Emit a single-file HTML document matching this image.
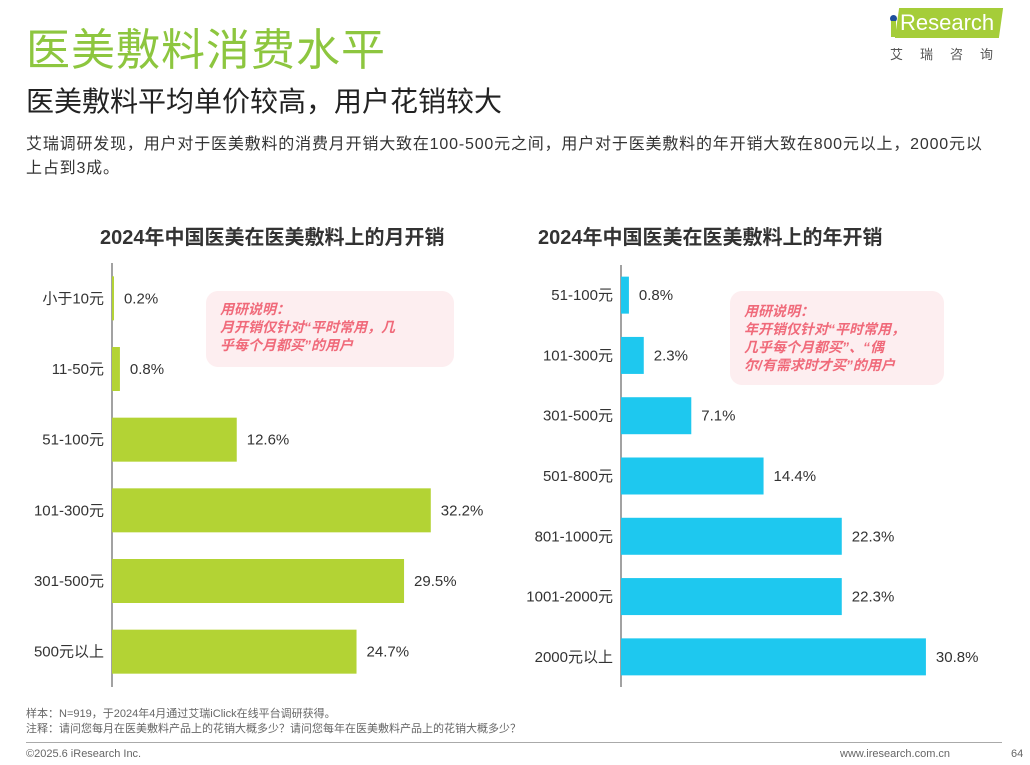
<!DOCTYPE html>
<html><head><meta charset="utf-8"><style>
body{margin:0;width:1030px;height:765px;background:#fff;font-family:"Liberation Sans","Noto Sans CJK SC",sans-serif;position:relative;overflow:hidden}
.a{position:absolute;white-space:nowrap}
</style></head><body>
<div class="a" style="left:26px;top:14px;font-size:44px;color:#8dc63f;letter-spacing:1px">医美敷料消费水平</div>
<div class="a" style="left:26px;top:80px;font-size:28px;color:#222">医美敷料平均单价较高，用户花销较大</div>
<div class="a" style="left:26px;top:133px;font-size:16px;letter-spacing:0.82px;color:#333;line-height:24px">艾瑞调研发现，用户对于医美敷料的消费月开销大致在100-500元之间，用户对于医美敷料的年开销大致在800元以上，2000元以<br>上占到3成。</div>
<div class="a" style="left:887px;top:6px;width:115px;height:38px">
 <div style="position:absolute;left:10px;top:2px;width:104px;height:30px;background:#a5cd39;transform:skewX(-8deg)"></div>
 <div style="position:absolute;left:3px;top:9px;width:7px;height:7px;border-radius:50%;background:#1e4f9c"></div>
 <div style="position:absolute;left:4px;top:15px;width:5px;height:16px;background:#a5cd39"></div>
 <div style="position:absolute;left:13px;top:4px;font-size:22px;color:#fff">Research</div>
</div>
<div class="a" style="left:890px;top:44px;font-size:13px;color:#555;letter-spacing:17px">艾瑞咨询</div>
<div class="a" style="left:100px;top:221px;font-size:20px;font-weight:bold;color:#333">2024年中国医美在医美敷料上的月开销</div>
<div class="a" style="left:538px;top:221px;font-size:20px;font-weight:bold;color:#333">2024年中国医美在医美敷料上的年开销</div>
<svg class="a" style="left:0;top:0" width="1030" height="765" id="svg"></svg>
<div class="a" style="left:206px;top:291px;width:248px;height:76px;background:#fdeef0;border-radius:12px"></div>
<div class="a" style="left:220px;top:300px;font-size:14px;font-weight:bold;font-style:italic;color:#f06a7a;line-height:18px">用研说明：<br>月开销仅针对“平时常用，几<br>乎每个月都买”的用户</div>
<div class="a" style="left:730px;top:291px;width:214px;height:94px;background:#fdeef0;border-radius:12px"></div>
<div class="a" style="left:744px;top:302px;font-size:14px;font-weight:bold;font-style:italic;color:#f06a7a;line-height:18px">用研说明：<br>年开销仅针对“平时常用，<br>几乎每个月都买”、“偶<br>尔/有需求时才买”的用户</div>
<div class="a" style="left:26px;top:707px;font-size:11px;color:#666;line-height:15px">样本：N=919，于2024年4月通过艾瑞iClick在线平台调研获得。<br>注释：请问您每月在医美敷料产品上的花销大概多少？请问您每年在医美敷料产品上的花销大概多少？</div>
<div class="a" style="left:26px;top:742px;width:976px;height:1px;background:#aaa"></div>
<div class="a" style="left:26px;top:748px;font-size:11px;color:#666">©2025.6 iResearch Inc.</div>
<div class="a" style="left:840px;top:748px;font-size:11px;color:#666">www.iresearch.com.cn</div>
<div class="a" style="left:1011px;top:748px;font-size:11px;color:#666">64</div>
<script>
const monthCats=["小于10元","11-50元","51-100元","101-300元","301-500元","500元以上"];
const monthVals=[0.2,0.8,12.6,32.2,29.5,24.7];
const yearCats=["51-100元","101-300元","301-500元","501-800元","801-1000元","1001-2000元","2000元以上"];
const yearVals=[0.8,2.3,7.1,14.4,22.3,22.3,30.8];
const svg=document.getElementById('svg');
const NS='http://www.w3.org/2000/svg';
function draw(cats,vals,ax,top,bottom,bh,color,pfx){
  const step=(bottom-top)/cats.length;
  const x=v=>ax+v*9.9;
  const ln=document.createElementNS(NS,'line');
  ln.setAttribute('x1',ax);ln.setAttribute('x2',ax);ln.setAttribute('y1',top);ln.setAttribute('y2',bottom);
  ln.setAttribute('stroke','#444');ln.setAttribute('stroke-width','1');
  
  
  svg.appendChild(ln);
  cats.forEach((c,i)=>{
    const cy=top+step*(i+0.5);
    const r=document.createElementNS(NS,'rect');
    r.setAttribute('x',ax);r.setAttribute('y',cy-bh/2);r.setAttribute('width',Math.max(x(vals[i])-ax,0.5));r.setAttribute('height',bh);r.setAttribute('fill',color);
    
    
    svg.appendChild(r);
    const t=document.createElementNS(NS,'text');
    t.setAttribute('x',ax-8);t.setAttribute('y',cy+5);t.setAttribute('text-anchor','end');t.setAttribute('font-size','15');t.setAttribute('fill','#333');t.textContent=c;
    
    
    svg.appendChild(t);
    const v=document.createElementNS(NS,'text');
    v.setAttribute('x',x(vals[i])+10);v.setAttribute('y',cy+5);v.setAttribute('font-size','15');v.setAttribute('fill','#333');v.textContent=vals[i].toFixed(1)+'%';
    
    
    svg.appendChild(v);
  });
}
draw(monthCats,monthVals,112,263,687,44,'#b3d334','month');
draw(yearCats,yearVals,621,265,687,37,'#1ec8ef','year');
</script>
</body></html>
